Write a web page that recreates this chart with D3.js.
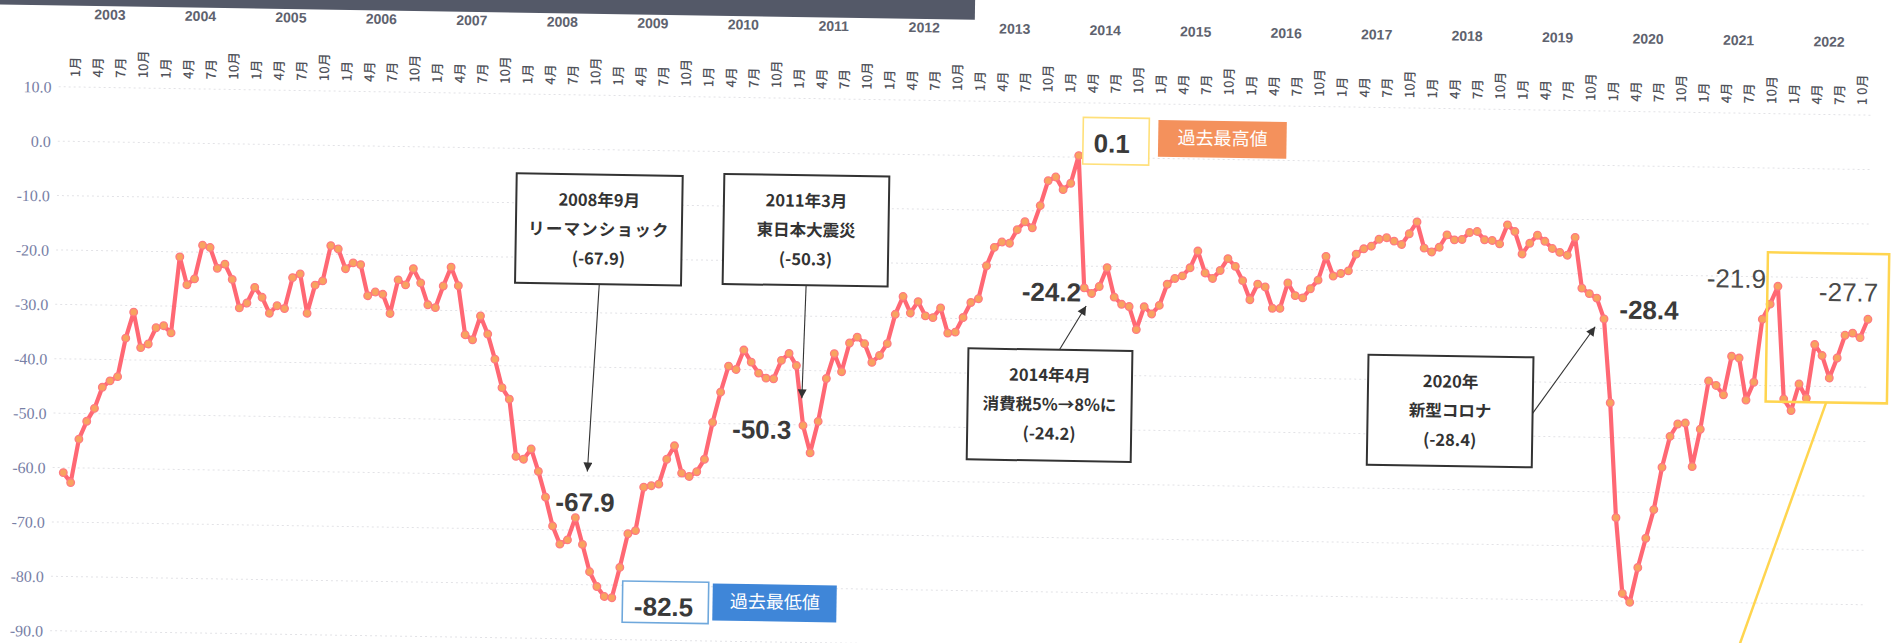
<!DOCTYPE html>
<html><head><meta charset="utf-8">
<script src="https://cdn.jsdelivr.net/npm/d3@7"></script>
<style>
html,body{margin:0;padding:0;background:#fff;overflow:hidden}
svg{display:block}
</style></head><body>
<svg id="chart" width="1896" height="643"></svg>
<script>
// ---------------- data ----------------
const startYear = 2003;
// monthly values, Jan 2003 .. Dec 2022
const values = [
  -61.1,-62.9,-54.9,-51.6,-49.2,-45.3,-44.1,-43.3,-36.2,-31.4,-37.9,-37.2, // 2003
  -34.2,-33.8,-35.1,-21.1,-26.2,-25.1,-18.9,-19.3,-23.1,-22.3,-25.1,-30.3, // 2004
  -29.4,-26.5,-28.3,-31.2,-29.8,-30.3,-24.6,-23.9,-31.1,-25.9,-25.1,-18.6, // 2005
  -19.2,-22.8,-21.7,-22.0,-27.7,-27.0,-27.4,-30.9,-24.7,-25.6,-22.6,-25.2, // 2006
  -29.2,-29.7,-25.7,-22.2,-25.6,-34.6,-35.5,-31.1,-34.4,-39.0,-44.2,-46.3, // 2007
  -56.8,-57.3,-55.4,-59.5,-64.2,-69.5,-72.8,-72.0,-67.9,-72.8,-77.8,-80.5, // 2008
  -82.3,-82.5,-76.9,-70.7,-70.1,-62.1,-61.8,-61.5,-56.9,-54.4,-59.4,-60.0, // 2009
  -59.1,-56.8,-50.0,-44.4,-39.6,-40.2,-36.6,-38.8,-40.8,-41.7,-41.8,-38.4, // 2010
  -37.1,-39.3,-50.3,-55.3,-49.5,-41.6,-37.0,-40.3,-35.0,-33.9,-35.1,-38.5, // 2011
  -37.2,-35.0,-29.6,-26.3,-29.3,-27.2,-29.8,-30.1,-28.3,-32.9,-32.7,-30.0, // 2012
  -27.2,-26.5,-20.4,-17.0,-16.0,-16.2,-13.7,-12.2,-13.3,-9.2,-4.6,-3.9,    // 2013
  -6.2,-5.0,0.1,-24.2,-25.2,-23.9,-20.4,-25.8,-27.1,-27.5,-31.7,-27.5,     // 2014
  -28.8,-27.2,-23.3,-22.2,-21.7,-20.2,-17.1,-21.1,-22.1,-20.6,-18.4,-19.8, // 2015
  -22.4,-25.9,-23.0,-23.5,-27.4,-27.4,-22.7,-25.0,-25.4,-23.7,-22.1,-17.7, // 2016
  -21.3,-20.8,-20.3,-17.2,-16.2,-15.7,-14.4,-14.1,-14.7,-15.3,-13.3,-11.1, // 2017
  -15.9,-16.6,-15.7,-13.4,-14.3,-14.2,-12.9,-12.7,-14.2,-14.3,-14.9,-11.4, // 2018
  -12.6,-16.7,-14.7,-13.2,-14.3,-15.6,-16.3,-16.8,-13.5,-22.8,-23.8,-24.6, // 2019
  -28.4,-43.8,-64.9,-78.8,-80.4,-74.0,-68.6,-63.3,-55.5,-49.8,-47.5,-47.3, // 2020
  -55.3,-48.4,-39.5,-40.3,-42.0,-34.9,-35.2,-42.9,-39.6,-28.0,-25.2,-21.9, // 2021
  -42.6,-44.7,-39.8,-42.4,-32.5,-34.5,-38.6,-34.9,-30.7,-30.3,-31.1,-27.7  // 2022
];
const yearLabels = [2003,2004,2005,2006,2007,2008,2009,2010,2011,2012,2013,2014,2015,2016,2017,2018,2019,2020,2021,2022];
const yTicks = [10,0,-10,-20,-30,-40,-50,-60,-70,-80,-90];
const quarterLabels = ["1月","4月","7月","10月"];
const lastTickLabel = "1 0月";
const calloutTexts = [
  ["2008年9月","リーマンショック","(-67.9)"],
  ["2011年3月","東日本大震災","(-50.3)"],
  ["2014年4月","消費税5%→8%に","(-24.2)"],
  ["2020年","新型コロナ","(-28.4)"]
];
const valueLabels = ["-67.9","-50.3","-24.2","-28.4","-21.9","-27.7"];
const minLabel = "-82.5", minTag = "過去最低値";
const maxLabel = "0.1",  maxTag = "過去最高値";

// ---------------- drawing ----------------
const svg = d3.select("#chart");
svg.append("rect").attr("width",1896).attr("height",643).attr("fill","#ffffff");
const g = svg.append("g").attr("transform","rotate(0.9)");

const x = d3.scaleLinear().domain([0, values.length-1]).range([70.7, 1872.7]);
const y = d3.scaleLinear().domain([-90, 10]).range([628.8, 84.8]);
const yearX = d3.scaleLinear().domain([2003, 2022]).range([110.2, 1829.5]);

// header bar (cropped title)
g.append("rect").attr("x",-40).attr("y",-60).attr("width",1015).attr("height",64.5).attr("fill","#545968");

// gridlines
g.append("g").selectAll("line").data(yTicks).join("line")
  .attr("x1",60).attr("x2",1874)
  .attr("y1",d=>y(d)+1).attr("y2",d=>y(d)+1)
  .attr("stroke","#e2e2e6").attr("stroke-width",1).attr("stroke-dasharray","2,3");

// y axis labels
const yAxis = g.append("g").attr("transform","translate(53,1.4)")
  .call(d3.axisLeft(y).tickValues(yTicks).tickSize(0).tickPadding(0).tickFormat(d=>d.toFixed(1)));
yAxis.select(".domain").remove();
yAxis.selectAll("text").attr("font-family","'Liberation Serif', 'DejaVu Serif', serif")
  .attr("font-size",16).attr("fill","#7880a6");

// year labels
g.append("g").selectAll("text").data(yearLabels).join("text")
  .attr("x",d=>yearX(d)).attr("y",17.8).attr("text-anchor","middle")
  .attr("font-family","'Liberation Sans', Arial, sans-serif").attr("font-weight","bold")
  .attr("font-size",14).attr("fill","#5e626e").text(d=>d);

// month labels (every quarter)
const qIdx = d3.range(0, values.length, 3).filter(i => i <= 237);
g.append("g").selectAll("text").data(qIdx).join("text")
  .attr("transform", i => `translate(${x(i)+5},76) rotate(-90)`)
  .attr("text-anchor","start").attr("dominant-baseline","central")
  .attr("font-family","'Noto Sans CJK JP', sans-serif").attr("font-size",13).attr("font-weight",500)
  .attr("fill","#50525a")
  .text((i,k) => k === qIdx.length-1 ? lastTickLabel : quarterLabels[(i/3)%4]);

// line + markers
const line = d3.line().x((d,i)=>x(i)).y(d=>y(d));
g.append("path").datum(values).attr("d",line).attr("fill","none")
  .attr("stroke","#ff6874").attr("stroke-width",4.2).attr("stroke-linejoin","round");
g.append("g").selectAll("circle").data(values).join("circle")
  .attr("cx",(d,i)=>x(i)).attr("cy",d=>y(d)).attr("r",3.8)
  .attr("fill","#f8a35f").attr("stroke","#ff7a80").attr("stroke-width",1.3);

// arrow marker
const defs = svg.append("defs");
defs.append("marker").attr("id","arr").attr("viewBox","0 0 10 10").attr("refX",10).attr("refY",5)
  .attr("markerWidth",10).attr("markerHeight",9).attr("markerUnits","userSpaceOnUse").attr("orient","auto")
  .append("path").attr("d","M0,0 L10,5 L0,10 Z").attr("fill","#333");

// callout boxes
const boxLayout = [
  {x:519.4, y:165.2, w:166, h:109.5, a:[603.7,273.9,594.7,462.2]},
  {x:727.0, y:162.6, w:165, h:110,   a:[810.5,272.3,808.0,385.7]},
  {x:973.8, y:333.1, w:164, h:111,   a:[1064.8,333.1,1090.8,288.9]},
  {x:1373.9,y:333.2, w:165, h:110,   a:[1538.9,389.2,1600.1,301.7]}
];
calloutTexts.forEach((lines,k) => {
  const b = boxLayout[k];
  const bg = g.append("g");
  bg.append("line").attr("x1",b.a[0]).attr("y1",b.a[1]).attr("x2",b.a[2]).attr("y2",b.a[3])
    .attr("stroke","#333").attr("stroke-width",1.1).attr("marker-end","url(#arr)");
  bg.append("rect").attr("x",b.x).attr("y",b.y).attr("width",b.w).attr("height",b.h)
    .attr("fill","#fff").attr("stroke","#333").attr("stroke-width",2);
  bg.selectAll("text").data(lines).join("text")
    .attr("x",b.x+b.w/2).attr("y",(d,j)=>b.y+25.5+j*29.2+6)
    .attr("text-anchor","middle").attr("font-family","'Noto Sans CJK JP', sans-serif")
    .attr("font-weight","bold").attr("font-size",16.5).attr("fill","#333")
    .attr("letter-spacing",(d,j)=> j===1 && k===0 ? 1.2 : 0)
    .text(d=>d);
});

// value labels next to the line
const vlLayout = [
  {x:592.9, y:492.8, w:"bold"},
  {x:768.4, y:417.2, w:"bold"},
  {x:1055.9,y:275.2, w:"bold"},
  {x:1653.7,y:283.8, w:"bold"},
  {x:1740.6,y:251.0, w:"normal"},
  {x:1852.9,y:263.0, w:"normal"}
];
valueLabels.forEach((t,k) => {
  const p = vlLayout[k];
  g.append("text").attr("x",p.x).attr("y",p.y+9.3).attr("text-anchor","middle")
    .attr("font-family","'Liberation Sans', Arial, sans-serif").attr("font-weight",p.w)
    .attr("font-size",26).attr("fill", p.w==="bold" ? "#3a3a3a" : "#4a4a4a").text(t);
});

// min box
g.append("rect").attr("x",631.8).attr("y",571.1).attr("width",86).attr("height",41.3)
  .attr("fill","#fff").attr("stroke","#6fa8dc").attr("stroke-width",1.6);
g.append("text").attr("x",673).attr("y",596.1+9.3).attr("text-anchor","middle")
  .attr("font-family","'Liberation Sans', Arial, sans-serif").attr("font-weight","bold")
  .attr("font-size",26).attr("fill","#3a3a3a").text(minLabel);
g.append("rect").attr("x",721.9).attr("y",572.2).attr("width",124).attr("height",37).attr("fill","#3f86d8");
g.append("text").attr("x",784.2).attr("y",589.7+6.5).attr("text-anchor","middle")
  .attr("font-family","'Noto Sans CJK JP', sans-serif").attr("font-size",18).attr("fill","#fff").text(minTag);

// max box
g.append("rect").attr("x",1085.1).attr("y",100.3).attr("width",66).attr("height",46.7)
  .attr("fill","#fff").attr("stroke","#ffe07a").attr("stroke-width",1.6);
g.append("text").attr("x",1113.9).attr("y",125.8+9.3).attr("text-anchor","middle")
  .attr("font-family","'Liberation Sans', Arial, sans-serif").attr("font-weight","bold")
  .attr("font-size",26).attr("fill","#3a3a3a").text(maxLabel);
g.append("rect").attr("x",1160.2).attr("y",101.8).attr("width",128.4).attr("height",36.7).attr("fill","#f4915c");
g.append("text").attr("x",1224.7).attr("y",119.1+6.5).attr("text-anchor","middle")
  .attr("font-family","'Noto Sans CJK JP', sans-serif").attr("font-size",18).attr("fill","#fff").text(maxTag);

// highlight box for recent period and its leader line
g.append("rect").attr("x",1771.7).attr("y",224.5).attr("width",121.3).attr("height",149.2)
  .attr("fill","none").attr("stroke","#ffd54f").attr("stroke-width",2.5);
g.append("line").attr("x1",1832.3).attr("y1",373.7).attr("x2",1725.4).attr("y2",688)
  .attr("stroke","#ffd54f").attr("stroke-width",2.5);
</script>
</body></html>
